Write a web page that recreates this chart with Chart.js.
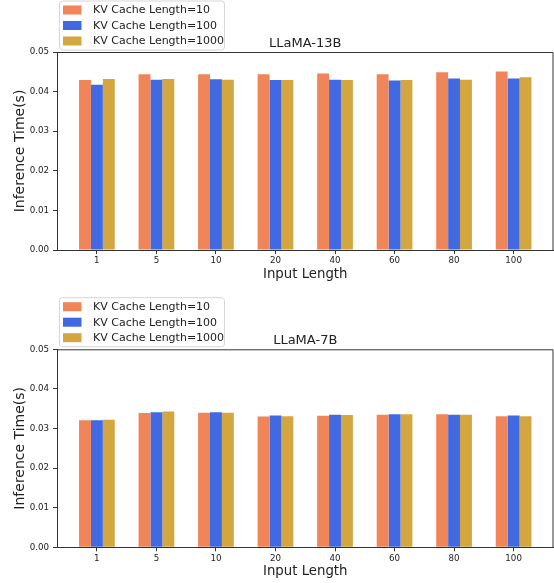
<!DOCTYPE html>
<html>
<head>
<style>
  body { margin: 0; background: #fff; }
  canvas { position: absolute; left: 0; }
</style>
</head>
<body>

<canvas id="chart13b" width="554" height="291" style="top:0"></canvas>
<canvas id="chart7b" width="554" height="292" style="top:291px"></canvas>

<script src="https://cdn.jsdelivr.net/npm/chart.js"></script>
<script>
// 데이터
const inputLengths = ['1', '5', '10', '20', '40', '60', '80', '100'];
const seriesLabels = ['KV Cache Length=10', 'KV Cache Length=100', 'KV Cache Length=1000'];
const yTicks = [0.00, 0.01, 0.02, 0.03, 0.04, 0.05];

const llama13bKv10   = [0.0429, 0.0444, 0.0444, 0.0444, 0.0446, 0.0444, 0.0449, 0.0451];
const llama13bKv100  = [0.0417, 0.0430, 0.0431, 0.0429, 0.0430, 0.0428, 0.0433, 0.0433];
const llama13bKv1000 = [0.0432, 0.0432, 0.0430, 0.0429, 0.0429, 0.0429, 0.0430, 0.0436];

const llama7bKv10   = [0.0321, 0.0339, 0.0340, 0.0330, 0.0332, 0.0335, 0.0336, 0.0331];
const llama7bKv100  = [0.0321, 0.0341, 0.0341, 0.0333, 0.0335, 0.0336, 0.0335, 0.0333];
const llama7bKv1000 = [0.0322, 0.0343, 0.0340, 0.0331, 0.0334, 0.0336, 0.0335, 0.0331];

const colors = ['#f0855a', '#4169e1', '#d4a640'];
const FONT = '"DejaVu Sans"';

// 제목, 범례, 테두리를 그리는 플러그인
const decor = {
    id: 'decor',
    afterDraw(chart, args, opts) {
        const ctx = chart.ctx;
        const a = chart.chartArea;
        ctx.save();

        // 위쪽, 오른쪽 테두리
        ctx.strokeStyle = '#333';
        ctx.lineWidth = 1;
        ctx.beginPath();
        ctx.moveTo(a.left, a.top + 0.5);
        ctx.lineTo(a.right - 0.5, a.top + 0.5);
        ctx.lineTo(a.right - 0.5, a.bottom);
        ctx.stroke();

        // 제목
        ctx.fillStyle = '#222';
        ctx.font = '13px ' + FONT;
        ctx.textAlign = 'center';
        ctx.textBaseline = 'alphabetic';
        ctx.fillText(opts.title, (a.left + a.right) / 2, a.top - 5.5);

        // 범례
        const y0 = opts.legendY;
        const rowGap = 15.5;
        ctx.beginPath();
        ctx.roundRect(59.5, y0 - 9, 165, rowGap * 2 + 18, 3);
        ctx.fillStyle = 'rgba(255,255,255,0.8)';
        ctx.fill();
        ctx.strokeStyle = '#d6d6d6';
        ctx.stroke();

        ctx.font = '11px ' + FONT;
        ctx.textAlign = 'left';
        ctx.textBaseline = 'middle';
        chart.data.datasets.forEach((ds, i) => {
            const y = y0 + i * rowGap;
            ctx.fillStyle = ds.backgroundColor;
            ctx.fillRect(63, y - 4.5, 18.5, 9);
            ctx.fillStyle = '#222';
            ctx.fillText(ds.label, 93, y + 0.5);
        });
        ctx.restore();
    }
};

function makeChart(id, title, series, lay) {
    const ctx = document.getElementById(id).getContext('2d');
    return new Chart(ctx, {
        type: 'bar',
        data: {
            datasets: series.map((vals, i) => ({
                label: seriesLabels[i],
                data: vals.map((v, j) => ({ x: j, y: v })),
                backgroundColor: colors[i],
                borderWidth: 0,
                categoryPercentage: 0.6,
                barPercentage: 1.0
            }))
        },
        options: {
            responsive: false,
            animation: false,
            layout: { padding: { top: lay.top, left: 0, right: 0.5, bottom: 0 } },
            plugins: {
                legend: { display: false },
                tooltip: { enabled: false },
                decor: { title: title, legendY: lay.legendY }
            },
            scales: {
                x: {
                    type: 'linear',
                    min: -0.67,
                    max: 7.67,
                    offset: false,
                    afterBuildTicks: s => { s.ticks = inputLengths.map((_, i) => ({ value: i })); },
                    afterFit: s => { s.height = lay.xHeight; },
                    ticks: {
                        autoSkip: false,
                        maxRotation: 0,
                        padding: 2,
                        color: '#222',
                        font: { family: FONT, size: 8.7 },
                        callback: v => inputLengths[v]
                    },
                    grid: { drawOnChartArea: false, offset: false, tickLength: 4, color: '#333' },
                    border: { display: true, color: '#333' },
                    title: {
                        display: true,
                        text: 'Input Length',
                        color: '#222',
                        font: { family: FONT, size: 13.3 },
                        padding: { top: 0, bottom: lay.xTitlePad }
                    }
                },
                y: {
                    min: 0,
                    max: 0.05,
                    afterBuildTicks: s => { s.ticks = yTicks.map(v => ({ value: v })); },
                    afterFit: s => { s.width = 57; },
                    ticks: {
                        padding: 4,
                        color: '#222',
                        font: { family: FONT, size: 8.7 },
                        callback: v => v.toFixed(2)
                    },
                    grid: { drawOnChartArea: false, tickLength: 4, color: '#333' },
                    border: { display: true, color: '#333' },
                    title: {
                        display: true,
                        text: 'Inference Time(s)',
                        color: '#222',
                        font: { family: FONT, size: 14 },
                        padding: { top: 11.5, bottom: 0 }
                    }
                }
            }
        },
        plugins: [decor]
    });
}

makeChart('chart13b', 'LLaMA-13B', [llama13bKv10, llama13bKv100, llama13bKv1000],
    { top: 52, xHeight: 41, xTitlePad: 8, legendY: 10 });
makeChart('chart7b', 'LLaMA-7B', [llama7bKv10, llama7bKv100, llama7bKv1000],
    { top: 58.3, xHeight: 35.7, xTitlePad: 3.3, legendY: 15.7 });
</script>

</body>
</html>
